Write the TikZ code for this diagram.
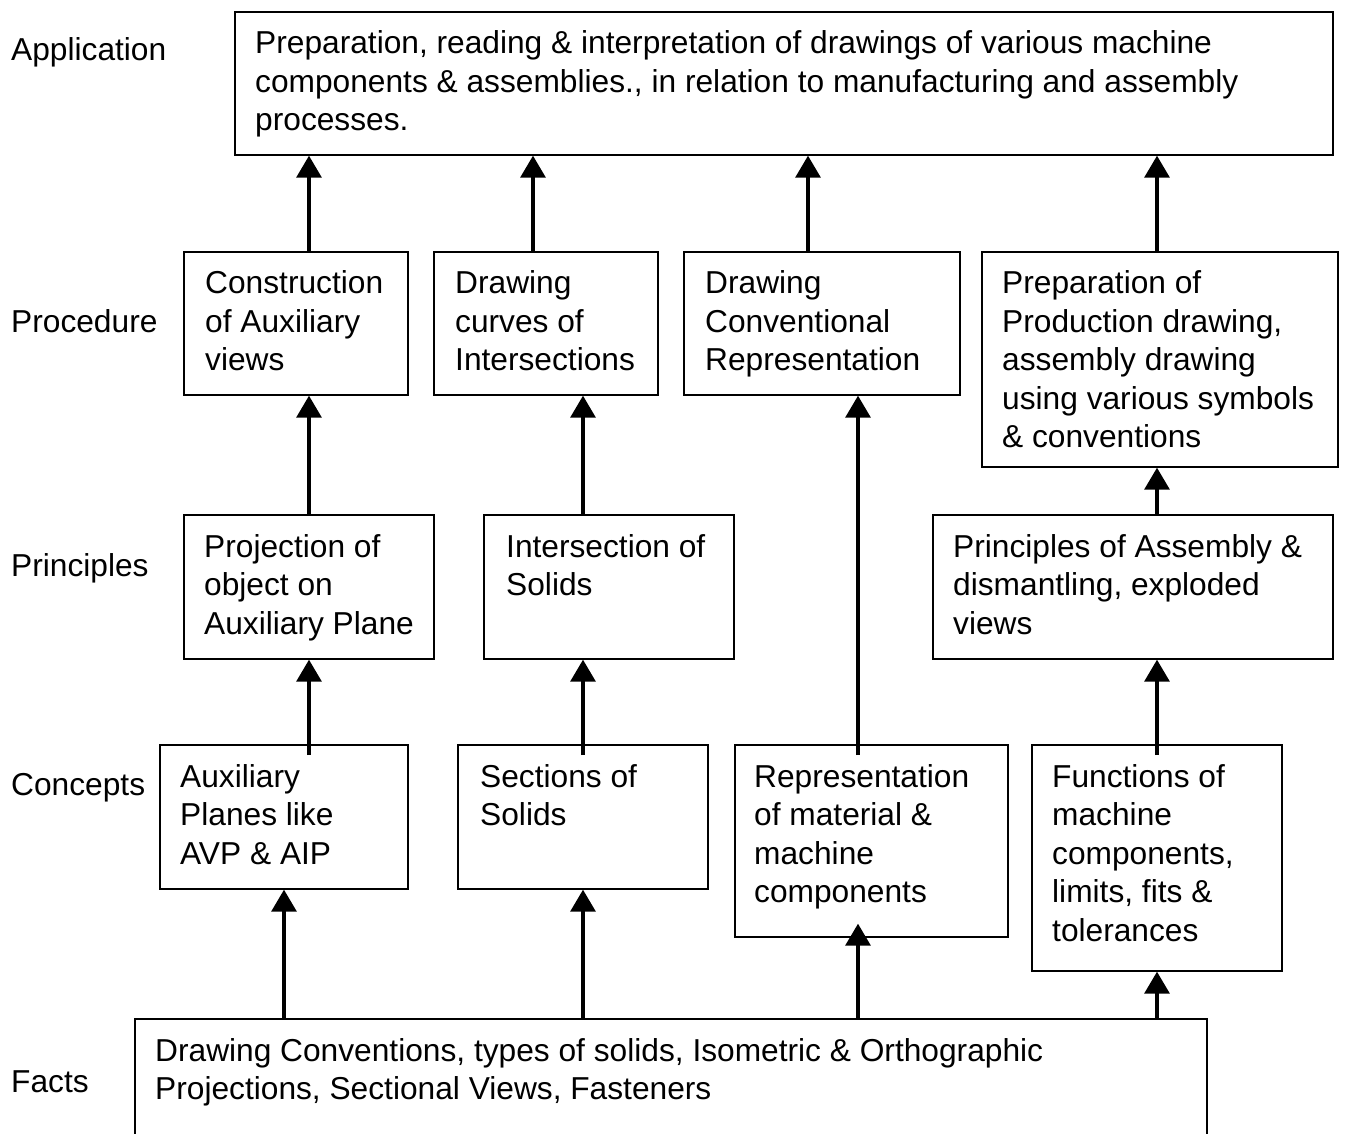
\documentclass[tikz,border=0pt]{standalone}
\usepackage{fontspec}
\setmainfont{Liberation Sans}
\usetikzlibrary{arrows.meta,calc}
\tikzset{
  box/.style={draw=black, line width=1.7pt, fill=white, inner sep=0pt, anchor=north west},
  txt/.style={anchor=base west, inner sep=0pt, font=\fontsize{31.7}{38.5}\selectfont},
  lbl/.style={anchor=base west, inner sep=0pt, font=\fontsize{31.7}{38.5}\selectfont},
  arr/.style={line width=3.3pt, -{Triangle[length=22pt,width=25pt]}},
}
\newcommand{\lines}[1]{\begin{tabular}[t]{@{}l@{}}#1\end{tabular}}
\begin{document}
\begin{tikzpicture}[x=1pt,y=-1pt]
\useasboundingbox (0,0) rectangle (1345,1134);
\clip (0,0) rectangle (1345,1134);
\fill[white] (0,0) rectangle (1345,1134);
% row labels
\node[lbl] (lapp) at (11,61) {Application};
\node[lbl] (lproc) at (11,332) {Procedure};
\node[lbl] (lprin) at (11,576) {Principles};
\node[lbl] (lconc) at (11,795) {Concepts};
\node[lbl] (lfact) at (11,1092) {Facts};
% boxes
\node[box, minimum width=1098, minimum height=143] (app) at (234,11) {};
\node[box, minimum width=224, minimum height=143] (constr) at (183,251) {};
\node[box, minimum width=224, minimum height=143] (curves) at (433,251) {};
\node[box, minimum width=276, minimum height=143] (conv) at (683,251) {};
\node[box, minimum width=356, minimum height=215] (prep) at (981,251) {};
\node[box, minimum width=250, minimum height=144] (proj) at (183,514) {};
\node[box, minimum width=250, minimum height=144] (inter) at (483,514) {};
\node[box, minimum width=400, minimum height=144] (assem) at (932,514) {};
\node[box, minimum width=248, minimum height=144] (aux) at (159,744) {};
\node[box, minimum width=250, minimum height=144] (sect) at (457,744) {};
\node[box, minimum width=273, minimum height=192] (repr) at (734,744) {};
\node[box, minimum width=250, minimum height=226] (func) at (1031,744) {};
\node[box, minimum width=1072, minimum height=160] (facts) at (134,1018) {};
% texts
\node[txt] (tapp) at ($(app.north west)+(21,43)$) {\lines{Preparation, reading \& interpretation of drawings of various machine\\components \& assemblies., in relation to manufacturing and assembly\\processes.}};
\node[txt] (tconstr) at ($(constr.north west)+(22,43)$) {\lines{Construction\\of Auxiliary\\views}};
\node[txt] (tcurves) at ($(curves.north west)+(22,43)$) {\lines{Drawing\\curves of\\Intersections}};
\node[txt] (tconv) at ($(conv.north west)+(22,43)$) {\lines{Drawing\\Conventional\\Representation}};
\node[txt] (tprep) at ($(prep.north west)+(21,43)$) {\lines{Preparation of\\Production drawing,\\assembly drawing\\using various symbols\\\& conventions}};
\node[txt] (tproj) at ($(proj.north west)+(21,43)$) {\lines{Projection of\\object on\\Auxiliary Plane}};
\node[txt] (tinter) at ($(inter.north west)+(23,43)$) {\lines{Intersection of\\Solids}};
\node[txt] (tassem) at ($(assem.north west)+(21,43)$) {\lines{Principles of Assembly \&\\dismantling, exploded\\views}};
\node[txt] (taux) at ($(aux.north west)+(21,43)$) {\lines{Auxiliary\\Planes like\\AVP \& AIP}};
\node[txt] (tsect) at ($(sect.north west)+(23,43)$) {\lines{Sections of\\Solids}};
\node[txt] (trepr) at ($(repr.north west)+(20,43)$) {\lines{Representation\\of material \&\\machine\\components}};
\node[txt] (tfunc) at ($(func.north west)+(21,43)$) {\lines{Functions of\\machine\\components,\\limits, fits \&\\tolerances}};
\node[txt] (tfacts) at ($(facts.north west)+(21,43)$) {\lines{Drawing Conventions, types of solids, Isometric \& Orthographic\\Projections, Sectional Views, Fasteners}};
% arrow columns
\coordinate (k1) at (309,0);
\coordinate (k2) at (533,0);
\coordinate (k3) at (808,0);
\coordinate (k4) at (1157,0);
\coordinate (m2) at (583,0);
\coordinate (m3) at (858,0);
\coordinate (f1) at (284,0);
% procedure -> application
\draw[arr] (constr.north -| k1) -- (app.south -| k1);
\draw[arr] (curves.north -| k2) -- (app.south -| k2);
\draw[arr] (conv.north -| k3) -- (app.south -| k3);
\draw[arr] (prep.north -| k4) -- (app.south -| k4);
% principles -> procedure
\draw[arr] (proj.north -| k1) -- (constr.south -| k1);
\draw[arr] (inter.north -| m2) -- (curves.south -| m2);
\draw[arr] ($(repr.north -| m3)+(0,11)$) -- (conv.south -| m3);
\draw[arr] (assem.north -| k4) -- (prep.south -| k4);
% concepts -> principles
\draw[arr] ($(aux.north -| k1)+(0,11)$) -- (proj.south -| k1);
\draw[arr] ($(sect.north -| m2)+(0,11)$) -- (inter.south -| m2);
\draw[arr] ($(func.north -| k4)+(0,11)$) -- (assem.south -| k4);
% facts -> concepts
\draw[arr] (facts.north -| f1) -- (aux.south -| f1);
\draw[arr] (facts.north -| m2) -- (sect.south -| m2);
\draw[arr] (facts.north -| m3) -- ($(repr.south -| m3)+(0,-14)$);
\draw[arr] (facts.north -| k4) -- (func.south -| k4);
\end{tikzpicture}
\end{document}
